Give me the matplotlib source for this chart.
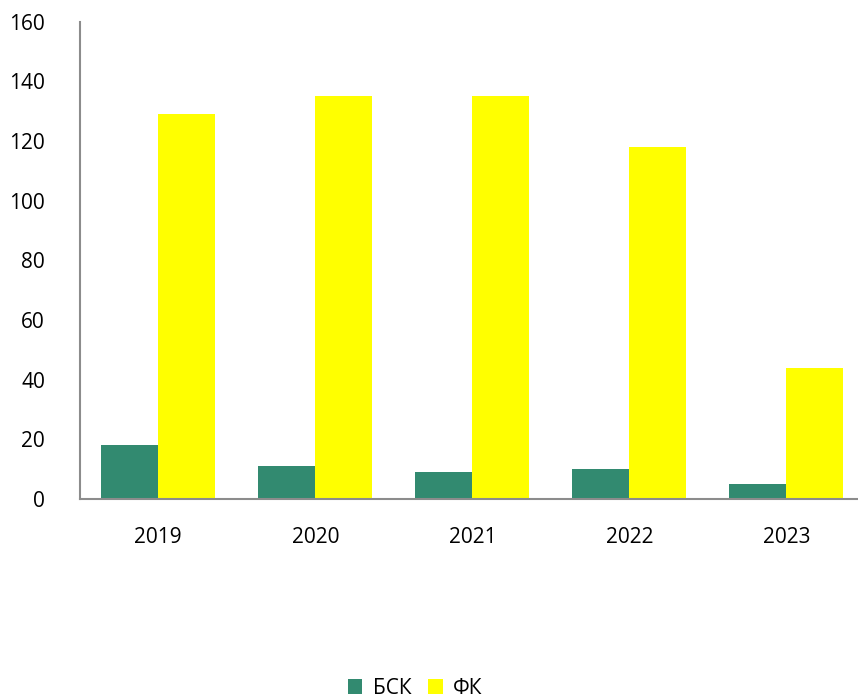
import matplotlib.pyplot as plt
import numpy as np

# Daten
years = ['2019', '2020', '2021', '2022', '2023']
bsk = [18, 11, 9, 10, 5]
fk = [129, 135, 135, 118, 44]

plt.rcParams['font.family'] = ['Open Sans', 'DejaVu Sans']

fig = plt.figure(figsize=(8.58, 7), dpi=100)
ax = fig.add_axes([0.093, 0.287, 0.915, 0.682])

x = np.arange(len(years))
w = 0.363
ax.bar(x - w / 2, bsk, width=w, color='#328a70', label='БСК')
ax.bar(x + w / 2, fk, width=w, color='#ffff00', label='ФК')

ax.set_xlim(-0.5, len(years) - 0.5)
ax.set_ylim(0, 160)
ax.set_yticks(range(0, 161, 20))
ax.set_xticks(x)
ax.set_xticklabels(years)
ax.tick_params(length=0, labelsize=15, colors='black')
ax.tick_params(axis='x', pad=20)
ax.tick_params(axis='y', pad=25)

for s in ['top', 'right']:
    ax.spines[s].set_visible(False)
for s in ['left', 'bottom']:
    ax.spines[s].set_color('#8c8c8c')
    ax.spines[s].set_linewidth(1.5)

fig.legend(loc='center', bbox_to_anchor=(0.484, 0.017), ncol=2, frameon=False,
           fontsize=15, handlelength=0.7, handleheight=0.7, handletextpad=0.5,
           columnspacing=0.8)

fig.savefig('out.png', dpi=100)
